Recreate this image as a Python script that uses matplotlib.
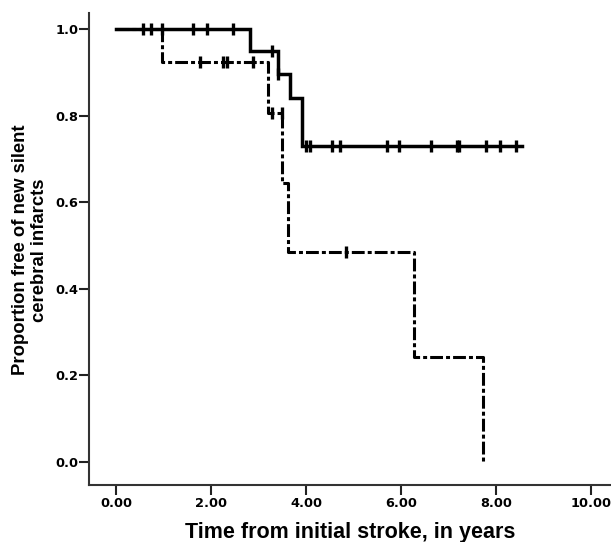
import numpy as np
import matplotlib.pyplot as plt

# solid group: step times and survival levels
solid_t = [0.0, 2.82, 3.40, 3.66, 3.92]
solid_s = [1.0, 0.95, 0.896, 0.84, 0.729]
solid_end = 8.55
solid_cens = [0.57, 0.74, 0.97, 1.62, 1.91, 2.46, 3.28, 3.42, 4.01, 4.08, 4.54,
              4.71, 5.71, 5.95, 6.64, 7.18, 7.23, 7.79, 8.09, 8.42]

# dashed group
dash_t = [0.0, 0.97, 3.19, 3.50, 3.62, 6.28, 7.73]
dash_s = [1.0, 0.923, 0.806, 0.645, 0.484, 0.242, 0.0]
dash_end = 7.73
dash_cens = [1.76, 2.25, 2.33, 2.88, 3.28, 3.49, 4.85]

xticks = [0, 2, 4, 6, 8, 10]
xtick_labels = ['0.00', '2.00', '4.00', '6.00', '8.00', '10.00']
yticks = [0.0, 0.2, 0.4, 0.6, 0.8, 1.0]
ytick_labels = ['0.0', '0.2', '0.4', '0.6', '0.8', '1.0']


def level_at(times, levels, x):
    idx = np.searchsorted(times, x, side='right') - 1
    return np.array(levels)[idx]


fig = plt.figure(figsize=(6.11, 5.42), dpi=100)
ax = fig.add_axes([0.1457, 0.1052, 0.8543, 0.8708])

xs = solid_t + [solid_end]
ys = solid_s + [solid_s[-1]]
ax.step(xs, ys, where='post', color='black', lw=2.5, solid_joinstyle='miter')
ax.plot(solid_cens, level_at(solid_t, solid_s, solid_cens), ls='none',
        marker='|', ms=9, mew=2.4, color='black')

xd = dash_t + [dash_end]
yd = dash_s + [dash_s[-1]]
ax.step(xd, yd, where='post', color='black', lw=2.2, dashes=(4.2, 1.0, 1.3, 1.0))
ax.plot(dash_cens, level_at(dash_t, dash_s, dash_cens), ls='none',
        marker='|', ms=9, mew=2.4, color='black')

ax.set_xlim(-0.568, 10.42)
ax.set_ylim(-0.053, 1.037)
ax.set_xticks(xticks)
ax.set_xticklabels(xtick_labels)
ax.set_yticks(yticks)
ax.set_yticklabels(ytick_labels)

for side in ['top', 'right']:
    ax.spines[side].set_visible(False)
for side in ['left', 'bottom']:
    ax.spines[side].set_linewidth(1.5)
    ax.spines[side].set_color('#333333')

ax.tick_params(direction='out', length=7, width=1.5, color='#222222', labelsize=9.3)
ax.tick_params(axis='x', pad=2)
ax.tick_params(axis='y', pad=0.5)
for lab in ax.get_xticklabels() + ax.get_yticklabels():
    lab.set_fontweight('bold')

fig.text(350 / 611, 4 / 542, 'Time from initial stroke, in years', ha='center',
         va='baseline', fontsize=15.5, fontweight='bold', family='Liberation Sans')
fig.text(30 / 611, 1 - 250 / 542, 'Proportion free of new silent\ncerebral infarcts',
         ha='center', va='center', rotation=90, fontsize=13.3, fontweight='bold',
         family='Liberation Sans', linespacing=1.15)

fig.savefig('out.png', dpi=100)
